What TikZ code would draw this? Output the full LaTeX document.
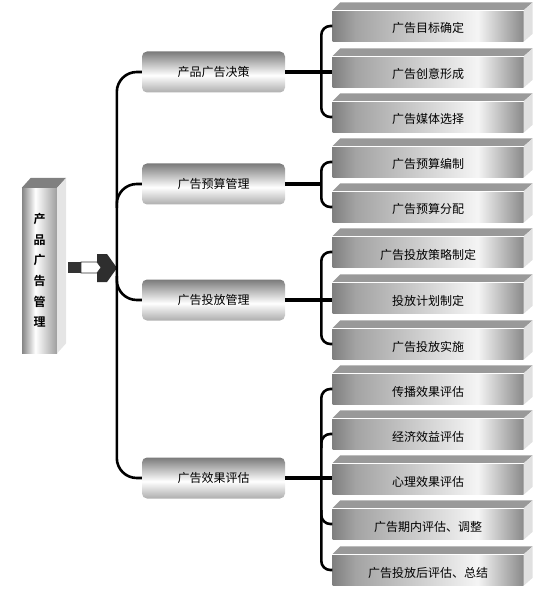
\documentclass[tikz,border=0pt]{standalone}
\usepackage{fontspec}
\newfontfamily\cjk{Noto Sans CJK SC}
\newfontfamily\cjkbf{Noto Sans CJK SC Bold}
\usepackage{tikz}

\pgfdeclarehorizontalshading{leafshade}{100bp}{color(0bp)=(black!50); color(25bp)=(black!50);
  color(31bp)=(black!36); color(63bp)=(black!4); color(75bp)=(black!46); color(100bp)=(black!46)}
\pgfdeclareverticalshading{stemshade}{100bp}{color(0bp)=(black!32); color(25bp)=(black!32);
  color(46bp)=(white); color(75bp)=(black!52); color(100bp)=(black!52)}
\pgfdeclarehorizontalshading{rootshade}{100bp}{color(0bp)=(black!48); color(25bp)=(black!48);
  color(44bp)=(white); color(75bp)=(black!38); color(100bp)=(black!38)}

\begin{document}
\begin{tikzpicture}[
    x=1pt, y=-1pt,
    font=\cjk\fontsize{12}{14}\selectfont,
    root/.style={shading=rootshade, minimum width=35pt, minimum height=165pt,
                 inner sep=0pt, align=center, font=\cjkbf\fontsize{12}{20.6}\selectfont},
    stem/.style={shading=stemshade, rounded corners=5pt, minimum width=143pt,
                 minimum height=41pt, inner sep=0pt},
    leaf/.style={shading=leafshade, minimum width=191pt, minimum height=31pt,
                 inner sep=0pt, text height=14pt, text depth=0pt},
    topface/.style={fill=black!40},
    sideface/.style={fill=black!12},
    trunk/.style={line width=2.6pt, rounded corners=20pt},
    brace/.style={line width=2.6pt, rounded corners=9pt},
    link/.style={line width=3.6pt},
  ]
  \useasboundingbox (0,0) rectangle (546,593);

  %% ---- root column --------------------------------------------------
  \node[root] (mgmt) at (39.5,270.5) {产\\品\\广\\告\\管\\理};
  \fill[black!50] (mgmt.north west) -- ++(9,-10) -- ([xshift=9pt,yshift=10pt]mgmt.north east)
    -- (mgmt.north east) -- cycle;
  \fill[black!10] (mgmt.north east) -- ++(9,-10) -- ([xshift=9pt,yshift=10pt]mgmt.south east)
    -- (mgmt.south east) -- cycle;

  %% ---- block arrow ---------------------------------------------------
  \fill[black!80] (68,262) rectangle (81,273);
  \filldraw[fill=white, draw=black!80, line width=0.6pt]
    (81,262) -- (97,262) -- (101,267.5) -- (97,273) -- (81,273) -- cycle;
  \fill[black!82] (97,254) -- (107,254) -- (117,268) -- (107,282) -- (97,282)
    -- (97,273) -- (101,267.5) -- (97,262) -- cycle;

  %% ---- second level ---------------------------------------------------
  \node[stem] (decide) at (213.5,72)  {产品广告决策};
  \node[stem] (budget) at (213.5,184) {广告预算管理};
  \node[stem] (put)    at (213.5,300) {广告投放管理};
  \node[stem] (eval)   at (213.5,478) {广告效果评估};

  \draw[trunk] (decide.west) -- ++(-25,0) |- (eval.west);
  \draw[trunk] (budget.west) -- ++(-25,0) -- ++(0,24);
  \draw[trunk] (put.west) -- ++(-25,0) -- ++(0,-24);

  %% ---- third level ----------------------------------------------------
  \node[leaf] (goal)   at (428,26)  {广告目标确定};
  \node[leaf] (idea)   at (428,72)  {广告创意形成};
  \node[leaf] (media)  at (428,117) {广告媒体选择};

  \node[leaf] (bmake)  at (428,162) {广告预算编制};
  \node[leaf] (bsplit) at (428,207) {广告预算分配};

  \node[leaf] (pstrat) at (428,252) {广告投放策略制定};
  \node[leaf] (pplan)  at (428,298) {投放计划制定};
  \node[leaf] (pdo)    at (428,344) {广告投放实施};

  \node[leaf] (comm)   at (428,389) {传播效果评估};
  \node[leaf] (econ)   at (428,434) {经济效益评估};
  \node[leaf] (psych)  at (428,479) {心理效果评估};
  \node[leaf] (mid)    at (428,524) {广告期内评估、调整};
  \node[leaf] (post)   at (428,570) {广告投放后评估、总结};

  \foreach \n in {goal,idea,media,bmake,bsplit,pstrat,pplan,pdo,comm,econ,psych,mid,post}{
    \fill[topface] (\n.north west) -- ++(8,-8) -- ([xshift=9pt,yshift=8pt]\n.north east)
      -- (\n.north east) -- cycle;
    \fill[sideface] (\n.north east) -- ++(9,-8) -- ([xshift=9pt,yshift=8pt]\n.south east)
      -- (\n.south east) -- cycle;
    \draw[white, line width=0.8pt] (\n.north west) -- (\n.north east);
  }

  %% ---- braces ---------------------------------------------------------
  \draw[brace] (goal.west) -- ++(-11,0) |- (media.west);
  \draw[brace] (bmake.west) -- ++(-11,0) |- (bsplit.west);
  \draw[brace] (pstrat.west) -- ++(-11,0) |- (pdo.west);
  \draw[brace] (comm.west) -- ++(-11,0) |- (post.west);
  \draw[brace] (econ.west) -- ++(-11,0) -- ++(0,14);
  \draw[brace] (mid.west) -- ++(-11,0) -- ++(0,-14);

  \draw[link] (decide.east) -- (decide.east -| idea.west);
  \draw[link] (budget.east) -- ([xshift=-11pt]budget.east -| bmake.west);
  \draw[link] (put.east) -- (put.east -| pplan.west);
  \draw[link] (eval.east) -- (eval.east -| psych.west);

\end{tikzpicture}
\end{document}
